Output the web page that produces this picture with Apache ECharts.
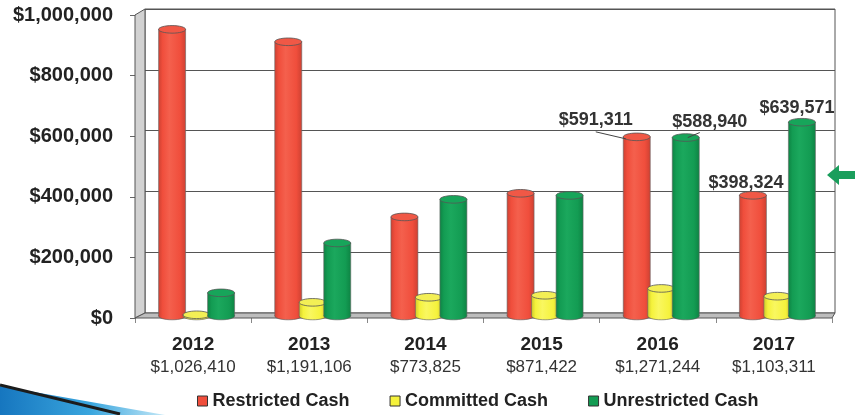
<!DOCTYPE html>
<html><head><meta charset="utf-8">
<script src="https://cdn.jsdelivr.net/npm/echarts@6/dist/echarts.min.js"></script>
<style>html,body{margin:0;padding:0;background:#fff}#c{width:855px;height:415px}</style>
</head><body><div id="c"></div>
<script>
// ---- data ----
var years = ['2012', '2013', '2014', '2015', '2016', '2017'];
var totals = ['$1,026,410', '$1,191,106', '$773,825', '$871,422', '$1,271,244', '$1,103,311'];
var seriesNames = ['Restricted Cash', 'Committed Cash', 'Unrestricted Cash'];
var restricted = [946000, 905000, 327000, 405000, 591311, 398324];
var committed = [4000, 45106, 61825, 68422, 90993, 65416];
var unrestricted = [76410, 241000, 385000, 398000, 588940, 639571];
var yMin = 0, yMax = 1000000, yStep = 200000;
// which bars carry a value label: [seriesIndex, categoryIndex]
var labelled = [[0, 4], [2, 4], [0, 5], [2, 5]];

// ---- styling ----
var FONT = '"Liberation Sans", Arial, sans-serif';
var L = 135, R = 23, T = 15, B = 97;       // front grid
var BL = 145, BR = 20, BT = 9, BB = 102;   // back wall
var W = 855, H = 415;
var palette = [
  { base: '#F04E3C', dark: '#CF4132', light: '#F4604D', top: '#F05846' },
  { base: '#F5F23C', dark: '#D2CC2A', light: '#F9F760', top: '#F3EF55' },
  { base: '#139C53', dark: '#0E8444', light: '#1BA85D', top: '#17A55A' }
];
var OFFS = [-22, 2.5, 27];
var BAR_W = 27;
var DEPTH = [1, -2];
var calloutStyle = {
  '0_4': { dx: -41, dy: -17, line: [-41, -5, -11, 2] },
  '2_4': { dx: 24, dy: -16, line: [2, 0, 14, -5] },
  '0_5': { dx: -7, dy: -12 },
  '2_5': { dx: -5, dy: -14 }
};
function money(v) { return '$' + Math.round(v).toLocaleString('en-US'); }
var labelSet = {};
labelled.forEach(function (p) { labelSet[p[0] + '_' + p[1]] = true; });

function makeRender(si) {
  return function (params, api) {
    var ci = api.value(0), v = api.value(1);
    var p0 = api.coord([ci, 0]), p1 = api.coord([ci, v]);
    var cx = p0[0] + OFFS[si] + DEPTH[0];
    var yb = p0[1] + DEPTH[1], yt = p1[1] + DEPTH[1];
    var rx = BAR_W / 2, ry = 3.8;
    var c = palette[si];
    var grad = new echarts.graphic.LinearGradient(0, 0, 1, 0, [
      { offset: 0, color: c.dark }, { offset: 0.15, color: c.base },
      { offset: 0.4, color: c.light }, { offset: 0.8, color: c.base }, { offset: 1, color: c.dark }
    ]);
    var kids = [
      { type: 'ellipse', shape: { cx: cx, cy: yb, rx: rx, ry: ry }, style: { fill: grad, stroke: '#555', lineWidth: 0.6 } },
      { type: 'rect', shape: { x: cx - rx, y: yt, width: BAR_W, height: Math.max(0, yb - yt) }, style: { fill: grad } },
      { type: 'line', shape: { x1: cx - rx, y1: yt, x2: cx - rx, y2: yb }, style: { stroke: '#666', lineWidth: 0.6 } },
      { type: 'line', shape: { x1: cx + rx, y1: yt, x2: cx + rx, y2: yb }, style: { stroke: '#666', lineWidth: 0.6 } },
      { type: 'ellipse', shape: { cx: cx, cy: yt, rx: rx, ry: ry }, style: { fill: c.top, stroke: '#555', lineWidth: 0.8 } }
    ];
    var key = si + '_' + ci;
    if (labelSet[key]) {
      var cs = calloutStyle[key] || { dx: 0, dy: -14 };
      if (cs.line) {
        kids.push({ type: 'line', shape: { x1: cx + cs.line[0], y1: yt + cs.line[1], x2: cx + cs.line[2], y2: yt + cs.line[3] },
          style: { stroke: '#444', lineWidth: 1 } });
      }
      kids.push({ type: 'text', style: { text: money(v), x: cx + cs.dx, y: yt + cs.dy, align: 'center', verticalAlign: 'middle',
        fontSize: 18, fontWeight: 'bold', fontFamily: FONT, fill: '#333' } });
    }
    return { type: 'group', children: kids };
  };
}

var seriesData = [restricted, committed, unrestricted];
var series = seriesData.map(function (arr, si) {
  return {
    name: seriesNames[si], type: 'custom', xAxisIndex: 0, yAxisIndex: 0,
    renderItem: makeRender(si), clip: false, z: 5,
    itemStyle: { color: palette[si].base },
    encode: { x: 0, y: 1 },
    data: arr.map(function (v, i) { return [i, v]; })
  };
});

var gb = H - B, gbBack = H - BB;
var graphics = [
  // side wall
  { type: 'polygon', z: 1, shape: { points: [[L, T], [BL, BT], [BL, gbBack], [L, gb]] },
    style: { fill: '#d2d2d2', stroke: '#555', lineWidth: 1 } },
  // floor
  { type: 'polygon', z: 1, shape: { points: [[L, gb], [BL, gbBack], [W - BR, gbBack], [W - R, gb]] },
    style: { fill: '#bdbdbd', stroke: '#555', lineWidth: 1 } },
  // green arrow
  { type: 'polygon', z: 1, shape: { points: [[827, 175], [839, 165], [839, 171], [855, 171], [855, 179], [839, 179], [839, 185]] },
    style: { fill: '#1A9E5C' } },
  // blue swoosh
  { type: 'polygon', z: 1, shape: { points: [[0, 386], [165, 415], [0, 415]] },
    style: { fill: new echarts.graphic.LinearGradient(0, 0, 1, 0, [{ offset: 0, color: '#1676bf' }, { offset: 0.55, color: '#3aa6de' }, { offset: 1, color: '#c4e8f7' }]) } },
  { type: 'line', z: 2, shape: { x1: 0, y1: 385, x2: 120, y2: 414 }, style: { stroke: '#1c1c1c', lineWidth: 3 } }
];

var chart = echarts.init(document.getElementById('c'));
chart.setOption({
  animation: false,
  backgroundColor: '#fff',
  grid: [
    { left: L, right: R, top: T, bottom: B },
    { left: BL, right: BR, top: BT, bottom: BB, show: true, borderColor: '#555', borderWidth: 1, backgroundColor: '#fff' }
  ],
  xAxis: [
    { type: 'category', gridIndex: 0, data: years,
      axisLine: { show: false }, axisTick: { show: true, length: 5, lineStyle: { color: '#888' } },
      axisLabel: { margin: 16, formatter: function (v, i) { return '{y|' + v + '}\n{t|' + totals[i] + '}'; },
        rich: { y: { fontSize: 19, fontWeight: 'bold', fontFamily: FONT, color: '#222', lineHeight: 22 },
                t: { fontSize: 17, fontFamily: FONT, color: '#333', lineHeight: 22 } } } },
    { type: 'category', gridIndex: 1, data: years, show: false }
  ],
  yAxis: [
    { type: 'value', gridIndex: 0, min: yMin, max: yMax, interval: yStep,
      axisLine: { show: true, lineStyle: { color: '#666' } }, axisTick: { show: true, length: 5, lineStyle: { color: '#666' } },
      splitLine: { show: false },
      axisLabel: { margin: 22, fontSize: 20, fontWeight: 'bold', fontFamily: FONT, color: '#222', formatter: money } },
    { type: 'value', gridIndex: 1, min: yMin, max: yMax, interval: yStep,
      axisLine: { show: false }, axisTick: { show: false }, axisLabel: { show: false },
      splitLine: { show: true, lineStyle: { color: '#555', width: 1 } } }
  ],
  legend: {
    data: seriesNames, left: 192, top: 387, icon: 'rect', itemWidth: 10, itemHeight: 10, itemGap: 40,
    itemStyle: { borderColor: '#333', borderWidth: 1 },
    textStyle: { fontSize: 18, fontWeight: 'bold', fontFamily: FONT, color: '#222' }
  },
  graphic: graphics,
  series: series
});
</script></body></html>
